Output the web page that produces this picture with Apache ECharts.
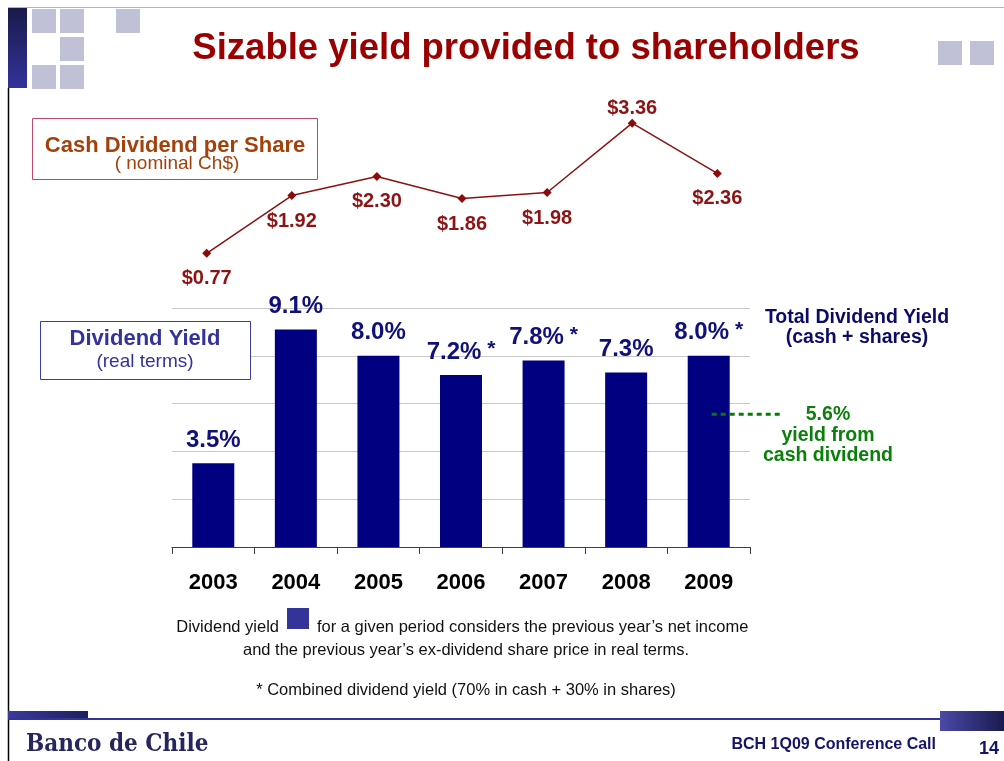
<!DOCTYPE html>
<html>
<head>
<meta charset="utf-8">
<script src="https://cdn.jsdelivr.net/npm/echarts@6/dist/echarts.min.js"></script>
<style>
html,body{margin:0;padding:0;background:#fff;}
#chart{width:1004px;height:761px;}
</style>
</head>
<body>
<div id="chart"></div>
<script>
// ---- data ----
const years = ['2003', '2004', '2005', '2006', '2007', '2008', '2009'];
const dividendYield = [3.5, 9.1, 8.0, 7.2, 7.8, 7.3, 8.0];      // % (real terms)
const combinedYield = [false, false, false, true, true, false, true]; // * marker
const cashDividend = [0.77, 1.92, 2.30, 1.86, 1.98, 3.36, 2.36]; // nominal Ch$
const cashYield2009 = 5.6; // % yield from cash dividend (2009)
const yieldTicks = [0, 2, 4, 6, 8, 10];

const FONT = 'Liberation Sans, Arial, sans-serif';
const chart = echarts.init(document.getElementById('chart'), null, {renderer: 'canvas'});

const maxCash = Math.max(...cashDividend);

const option = {
  backgroundColor: '#ffffff',
  animation: false,
  grid: [
    {left: 172, width: 578, top: 308, height: 239, containLabel: false},
    {left: 206.7, width: 510.6, top: 91, height: 201, containLabel: false}
  ],
  xAxis: [
    {
      type: 'category', gridIndex: 0, data: years, boundaryGap: true,
      axisLine: {show: true, lineStyle: {color: '#404040', width: 1}},
      axisTick: {show: true, inside: false, length: 7, alignWithLabel: false, lineStyle: {color: '#404040'}},
      axisLabel: {color: '#000', fontFamily: FONT, fontWeight: 'bold', fontSize: 22, margin: 25}
    },
    {
      type: 'category', gridIndex: 1, data: years, boundaryGap: false, show: false
    }
  ],
  yAxis: [
    {
      type: 'value', gridIndex: 0, min: yieldTicks[0], max: yieldTicks[yieldTicks.length - 1], interval: 2,
      axisLine: {show: false}, axisTick: {show: false}, axisLabel: {show: false},
      splitLine: {show: true, lineStyle: {color: '#c8c8c8', width: 1}}
    },
    {
      type: 'value', gridIndex: 1, min: 0, max: 4, show: false, splitLine: {show: false}
    }
  ],
  series: [
    {
      type: 'bar', xAxisIndex: 0, yAxisIndex: 0, barWidth: 42,
      itemStyle: {color: '#000080'},
      data: dividendYield,
      label: {
        show: true, position: 'top', distance: 10,
        formatter: (p) => combinedYield[p.dataIndex]
          ? '{v|' + p.value.toFixed(1) + '%}{s| *}'
          : '{v|' + p.value.toFixed(1) + '%}',
        rich: {
          v: {fontFamily: FONT, fontWeight: 'bold', fontSize: 24, color: '#10107a', lineHeight: 26},
          s: {fontFamily: FONT, fontWeight: 'bold', fontSize: 21, color: '#10107a', lineHeight: 20, verticalAlign: 'top'}
        }
      }
    },
    {
      type: 'line', xAxisIndex: 1, yAxisIndex: 1,
      symbol: 'diamond', symbolSize: 9,
      lineStyle: {color: '#8b1212', width: 1.5},
      itemStyle: {color: '#8b0a0a'},
      data: cashDividend.map(v => ({
        value: v,
        label: {position: v === maxCash ? 'top' : 'bottom', distance: v === maxCash ? 0 : 11}
      })),
      label: {
        show: true,
        formatter: (p) => '$' + p.value.toFixed(2),
        fontFamily: FONT, fontWeight: 'bold', fontSize: 20, color: '#8c1414'
      }
    }
  ]
};
chart.setOption(option);

// ---- decorations & annotations ----
const sq = (x, y) => ({type: 'rect', shape: {x: x, y: y, width: 24, height: 24}, style: {fill: '#c0c0d6'}, silent: true});
const txt = (text, x, y, size, color, weight, align) => ({
  type: 'text', silent: true,
  style: {text: text, x: x, y: y, fill: color, font: (weight || 'normal') + ' ' + size + 'px ' + FONT,
          align: align || 'center', verticalAlign: 'middle'}
});

// green dotted marker at the 2009 cash-dividend yield level
const p1 = chart.convertToPixel({xAxisIndex: 0, yAxisIndex: 0}, [years[years.length - 1], cashYield2009]);

const graphics = [
  // slide frame
  {type: 'line', shape: {x1: 8, y1: 7.5, x2: 1004, y2: 7.5}, style: {stroke: '#b4b4b4', lineWidth: 1}, silent: true},
  {type: 'line', shape: {x1: 8.5, y1: 88, x2: 8.5, y2: 761}, style: {stroke: '#000', lineWidth: 1.5}, silent: true},
  {type: 'rect', shape: {x: 8, y: 8, width: 19, height: 80},
   style: {fill: new echarts.graphic.LinearGradient(0, 0, 0, 1, [{offset: 0, color: '#1a1a4a'}, {offset: 1, color: '#33339c'}])}, silent: true},
  sq(32, 9), sq(60, 9), sq(116, 9), sq(60, 37), sq(32, 65), sq(60, 65),
  sq(938, 41), sq(970, 41),
  // title
  txt('Sizable yield provided to shareholders', 526, 49, 36.5, '#990000', 'bold'),
  // cash dividend box
  {type: 'rect', shape: {x: 32.5, y: 118.5, width: 285, height: 61}, style: {fill: 'none', stroke: '#c04a6a', lineWidth: 1}, silent: true},
  txt('Cash Dividend per Share', 175, 146, 22, '#a3410c', 'bold'),
  txt('( nominal Ch$)', 177, 164, 19, '#a3410c', 'normal'),
  // dividend yield box
  {type: 'rect', shape: {x: 40.5, y: 321.5, width: 210, height: 58}, style: {fill: '#fff', stroke: '#3d3d9e', lineWidth: 1}, silent: true},
  txt('Dividend Yield', 145, 339, 22, '#333399', 'bold'),
  txt('(real terms)', 145, 362, 19, '#333399', 'normal'),
  // total dividend yield note
  txt('Total Dividend Yield', 857, 318, 19.5, '#0c0c66', 'bold'),
  txt('(cash + shares)', 857, 338, 19.5, '#0c0c66', 'bold'),
  // cash yield note
  {type: 'line', shape: {x1: p1[0] + 3, y1: p1[1] + 1, x2: 783, y2: p1[1] + 1},
   style: {stroke: '#008000', lineWidth: 3, lineDash: [5, 4]}, silent: true, z: 100},
  txt(cashYield2009.toFixed(1) + '%', 828, 415, 19.5, '#0a800a', 'bold'),
  txt('yield from', 828, 436, 19.5, '#0a800a', 'bold'),
  txt('cash dividend', 828, 456, 19.5, '#0a800a', 'bold'),
  // footnotes
  txt('Dividend yield', 279, 627, 16.5, '#111', 'normal', 'right'),
  {type: 'rect', shape: {x: 287, y: 608, width: 22, height: 21}, style: {fill: '#333399'}, silent: true},
  txt('for a given period considers the previous year\u2019s net income', 317, 627, 16.5, '#111', 'normal', 'left'),
  txt('and the previous year\u2019s ex-dividend share price in real terms.', 466, 650, 16.5, '#111', 'normal'),
  txt('* Combined dividend yield (70% in cash + 30% in shares)', 466, 690, 16.5, '#111', 'normal'),
  // footer
  {type: 'rect', shape: {x: 8, y: 711, width: 80, height: 8},
   style: {fill: new echarts.graphic.LinearGradient(0, 0, 1, 0, [{offset: 0, color: '#3a3aa0'}, {offset: 1, color: '#1e1e5e'}])}, silent: true},
  {type: 'line', shape: {x1: 8, y1: 719, x2: 1004, y2: 719}, style: {stroke: '#333399', lineWidth: 2}, silent: true},
  {type: 'rect', shape: {x: 940, y: 711, width: 64, height: 20},
   style: {fill: new echarts.graphic.LinearGradient(0, 0, 1, 0, [{offset: 0, color: '#4a4aa8'}, {offset: 1, color: '#1a1a50'}])}, silent: true},
  txt('Banco de Chile', 26, 745, 24, '#26265e', 'bold', 'left'),
  txt('BCH 1Q09 Conference Call', 936, 745, 16, '#14146a', 'bold', 'right'),
  txt('14', 989, 749, 18, '#14146a', 'bold')
];
// serif for the logo
graphics[graphics.length - 3].style.font = 'bold 24px "DejaVu Serif Condensed", "DejaVu Serif", serif';

chart.setOption({graphic: graphics});
</script>
</body>
</html>
